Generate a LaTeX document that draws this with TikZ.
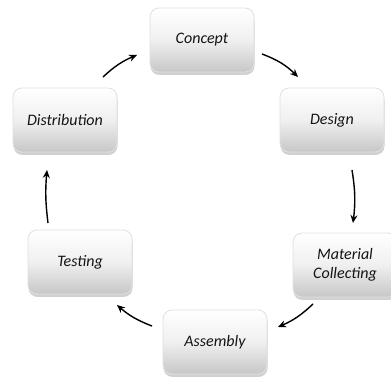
\documentclass[tikz,border=0pt]{standalone}
\usepackage{fontspec}
\setmainfont{Carlito}
\usetikzlibrary{shadows,arrows.meta}
\begin{document}
\begin{tikzpicture}[x=1pt,y=1pt,
  stagebox/.style={rounded corners=9pt, minimum width=104pt, minimum height=64pt,
    inner sep=2pt, align=center, draw=black!12, line width=0.8pt,
    top color=white, bottom color=black!22, middle color=white!94!black,
    drop shadow={shadow xshift=0.5pt, shadow yshift=-3pt, opacity=0.3, fill=black!60},
    font=\fontsize{16}{19}\selectfont\itshape, text=black!92},
  cyc/.style={line width=1.4pt, -{Stealth[length=8pt,width=7pt]}, black}]
\useasboundingbox (0,0) rectangle (391,377);
\node[stagebox] (concept) at (202,337) {Concept};
\node[stagebox] (design) at (332,257) {Design};
\node[stagebox] (material) at (345,112) {Material\\Collecting};
\node[stagebox] (assembly) at (215,35) {Assembly};
\node[stagebox] (testing) at (80,115) {Testing};
\node[stagebox] (distribution) at (65,257) {Distribution};
\draw[cyc] ([shift={(60,-14)}]concept.center) to[bend left=12] ([shift={(-34,43)}]design.center);
\draw[cyc] ([shift={(20,-50)}]design.center) to[bend left=8] ([shift={(8,42)}]material.center);
\draw[cyc] ([shift={(-32,-39)}]material.center) to[bend left=10] ([shift={(63,15)}]assembly.center);
\draw[cyc] ([shift={(-63,16)}]assembly.center) to[bend left=10] ([shift={(37,-43)}]testing.center);
\draw[cyc] ([shift={(-32,39)}]testing.center) to[bend left=6] ([shift={(-18,-50)}]distribution.center);
\draw[cyc] ([shift={(38,43)}]distribution.center) to[bend left=10] ([shift={(-65,-15)}]concept.center);
\end{tikzpicture}
\end{document}
